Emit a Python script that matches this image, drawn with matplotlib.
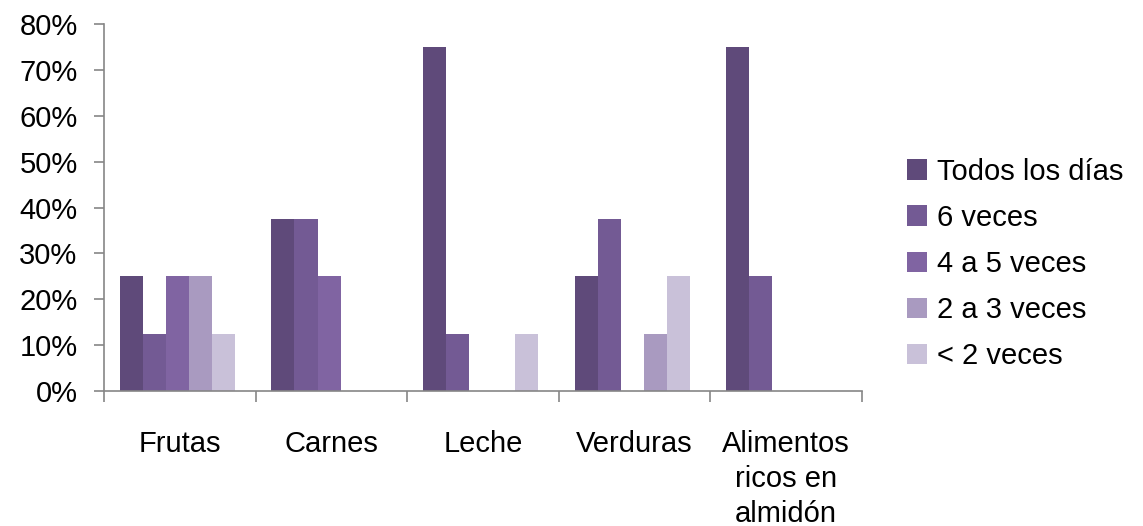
import matplotlib.pyplot as plt
import numpy as np
from matplotlib.ticker import FuncFormatter, FixedLocator

plt.rcParams["font.family"] = ["Liberation Sans", "DejaVu Sans"]

categories = ["Frutas", "Carnes", "Leche", "Verduras", "Alimentos\nricos en\nalmidón"]
series_names = ["Todos los días", "6 veces", "4 a 5 veces", "2 a 3 veces", "< 2 veces"]
todos = [0.25, 0.375, 0.75, 0.25, 0.75]
seis = [0.125, 0.375, 0.125, 0.375, 0.25]
cuatro_cinco = [0.25, 0.25, 0.0, 0.0, 0.0]
dos_tres = [0.25, 0.0, 0.0, 0.125, 0.0]
menos_dos = [0.125, 0.0, 0.125, 0.25, 0.0]

series = [todos, seis, cuatro_cinco, dos_tres, menos_dos]
colors = ["#5F4A7A", "#735A94", "#8064A2", "#A99AC0", "#C9C1D9"]

fig = plt.figure(figsize=(11.43, 5.26), dpi=100)
ax = fig.add_axes([0.091, 0.257, 0.663, 0.697])

x = np.arange(len(categories))
width = 0.152
for i, (vals, name, c) in enumerate(zip(series, series_names, colors)):
    ax.bar(x + (i - 2.1) * width, vals, width, color=c, label=name)

ax.set_xlim(-0.5, len(categories) - 0.5)
ax.set_ylim(0, 0.8)
ax.set_yticks(np.arange(0, 0.81, 0.1))
ax.yaxis.set_major_formatter(FuncFormatter(lambda v, p: f"{v * 100:.0f}%"))

# boundaries as major ticks, names as minor ticks at centers
ax.xaxis.set_major_locator(FixedLocator(np.arange(-0.5, len(categories), 1.0)))
ax.xaxis.set_major_formatter(FuncFormatter(lambda v, p: ""))
ax.xaxis.set_minor_locator(FixedLocator(x))
ax.set_xticklabels(categories, minor=True, fontsize=21, va="top", linespacing=1.33)
ax.tick_params(axis="x", which="minor", length=0, pad=28)
ax.tick_params(axis="x", which="major", length=8, color="#868686", width=1.2)
ax.tick_params(axis="y", length=7, color="#868686", width=1.2, labelsize=21, pad=12)

for s in ["top", "right"]:
    ax.spines[s].set_visible(False)
for s in ["left", "bottom"]:
    ax.spines[s].set_color("#868686")
    ax.spines[s].set_linewidth(1.2)

ax.legend(loc="center left", bbox_to_anchor=(1.059, 0.346), frameon=False,
          fontsize=21, handlelength=0.7, handleheight=0.7, handletextpad=0.35,
          labelspacing=0.62, borderpad=0, borderaxespad=0)

fig.savefig("out.png", dpi=100)
